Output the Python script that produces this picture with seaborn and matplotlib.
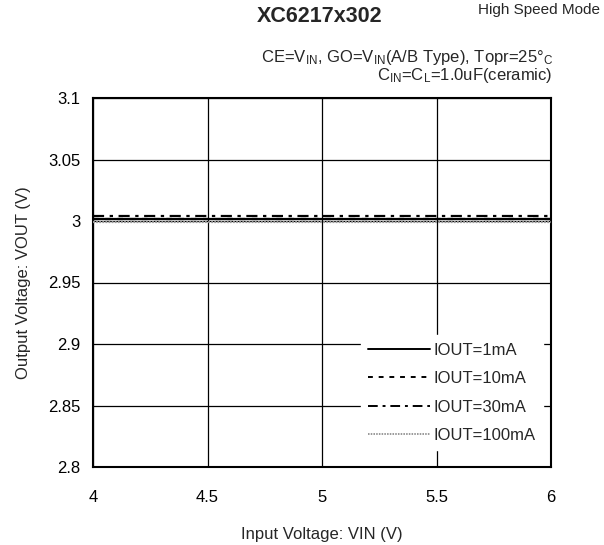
import matplotlib
matplotlib.use("Agg")
import matplotlib.pyplot as plt
import seaborn as sns
import pandas as pd

vin = [4.0, 4.5, 5.0, 5.5, 6.0]
series = ["IOUT=1mA", "IOUT=10mA", "IOUT=30mA", "IOUT=100mA"]
vout_1mA = [3.0018, 3.0018, 3.0018, 3.0018, 3.0018]
vout_10mA = [3.0015, 3.0015, 3.0015, 3.0015, 3.0015]
vout_30mA = [3.0042, 3.0042, 3.0042, 3.0042, 3.0042]
vout_100mA = [2.9990, 2.9990, 2.9990, 2.9990, 2.9990]
x_ticks = [4, 4.5, 5, 5.5, 6]
x_tick_labels = ["4", "4.5", "5", "5.5", "6"]
y_ticks = [2.8, 2.85, 2.9, 2.95, 3.0, 3.05, 3.1]
y_tick_labels = ["2.8", "2.85", "2.9", "2.95", "3", "3.05", "3.1"]

rows = []
for name, vals in zip(series, [vout_1mA, vout_10mA, vout_30mA, vout_100mA]):
    for x, y in zip(vin, vals):
        rows.append({"VIN": x, "VOUT": y, "series": name})
df = pd.DataFrame(rows)

sns.set_style("white")
plt.rcParams["font.family"] = ["Liberation Sans", "DejaVu Sans"]
plt.rcParams["mathtext.fontset"] = "custom"
plt.rcParams["mathtext.rm"] = "Liberation Sans"

FS = 12

fig = plt.figure(figsize=(6.04, 5.45), dpi=100)
ax = fig.add_axes([93/604, 1-467/545, 458/604, 369/545])

palette = {"IOUT=1mA": "black", "IOUT=10mA": "black", "IOUT=30mA": "black", "IOUT=100mA": "#999999"}
dashes = {"IOUT=1mA": "", "IOUT=10mA": (2.5, 3), "IOUT=30mA": (5, 2.5, 1.5, 2.5), "IOUT=100mA": (0.8, 0.6)}
sns.lineplot(data=df, x="VIN", y="VOUT", hue="series", style="series",
             hue_order=series, style_order=series, palette=palette, dashes=dashes,
             linewidth=1.6, ax=ax, zorder=3)

ax.set_xlim(4, 6)
ax.set_ylim(2.8, 3.1)
ax.set_xticks(x_ticks)
ax.set_xticklabels(x_tick_labels, fontsize=FS)
ax.set_yticks(y_ticks)
ax.set_yticklabels(y_tick_labels, fontsize=FS)
ax.grid(True, color="black", linewidth=0.9)
for s in ax.spines.values():
    s.set_color("black")
    s.set_linewidth(1.5)
ax.tick_params(axis="x", length=0, pad=16.5, colors="black")
ax.tick_params(axis="y", length=0, pad=9, colors="black")
ax.set_xlabel("Input Voltage: VIN (V)", fontsize=FS, labelpad=16)
ax.set_ylabel("Output Voltage: VOUT (V)", fontsize=FS, labelpad=12)

leg = ax.legend(loc="lower right", bbox_to_anchor=(0.9825, 0.045), fontsize=FS,
                handlelength=3.7, labelspacing=0.8, frameon=True, facecolor="white",
                edgecolor="white", framealpha=1, borderpad=0.45, handletextpad=0.2,
                fancybox=False, borderaxespad=0)
leg.set_zorder(5)
for line in leg.get_lines():
    line.set_linewidth(1.4)

fig.text(320/604, 1-16/545, "XC6217x302", fontsize=15.5, fontweight="bold", ha="center", va="center")
fig.text(539/604, 1-10/545, "High Speed Mode", fontsize=11, ha="center", va="center")
fig.text(553/604, 1-62/545, r"CE=V$\mathregular{_{IN}}$, GO=V$\mathregular{_{IN}}$(A/B Type), Topr=25°$\mathregular{_{C}}$",
         fontsize=FS, ha="right", va="baseline")
fig.text(553/604, 1-80/545, r"C$\mathregular{_{IN}}$=C$\mathregular{_{L}}$=1.0uF(ceramic)",
         fontsize=FS, ha="right", va="baseline")

fig.savefig("out.png", dpi=100)
